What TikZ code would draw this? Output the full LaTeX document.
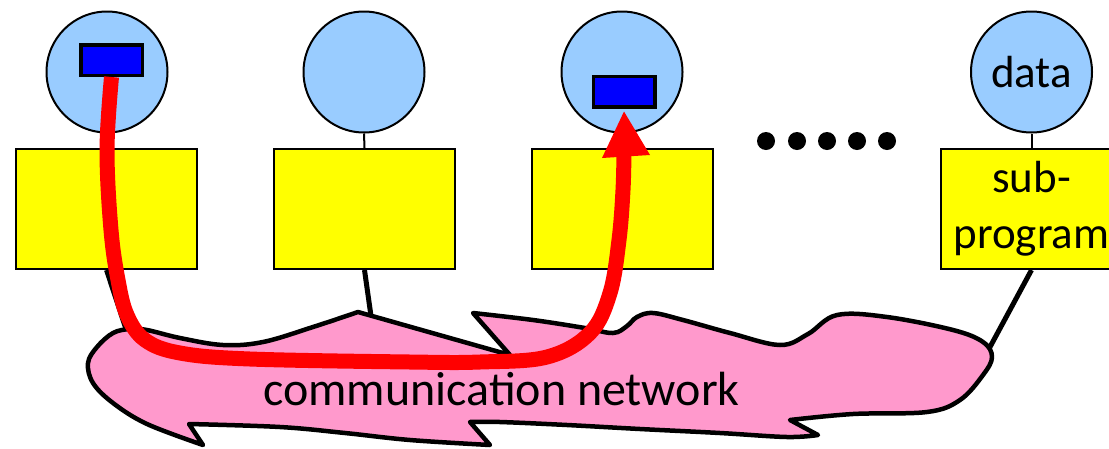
\documentclass[tikz,border=0pt]{standalone}
\usepackage{fontspec}
\setmainfont{Carlito}
\usetikzlibrary{calc}
\definecolor{circblue}{RGB}{153,204,255}
\definecolor{cloudpink}{RGB}{255,153,204}
\definecolor{itemblue}{RGB}{0,0,255}
\definecolor{boxyellow}{RGB}{255,255,0}
\definecolor{arrowred}{RGB}{255,0,0}
\begin{document}
\begin{tikzpicture}[x=1pt,y=-1pt,
  datacirc/.style={circle,draw=black,line width=2pt,fill=circblue,minimum size=121pt,inner sep=0pt,
    font=\fontsize{45}{54}\selectfont},
  progbox/.style={rectangle,draw=black,line width=2pt,fill=boxyellow,minimum width=181pt,minimum height=120pt,inner sep=0pt,
    align=center,font=\fontsize{45}{56}\selectfont},
  itembox/.style={rectangle,draw=black,line width=3.5pt,fill=itemblue,minimum width=61.5pt,minimum height=30.5pt,inner sep=0pt},
  thinlink/.style={draw=black,line width=2pt},
  netlink/.style={draw=black,line width=5pt},
  cloudsty/.style={draw=black,fill=cloudpink,line width=4.5pt,line join=round},
  flowline/.style={draw=arrowred,line width=15pt},
  dotsty/.style={circle,fill=black,minimum size=18pt,inner sep=0pt}
]
\useasboundingbox[fill=white] (0,0) rectangle (1109,448);

% circles (data)
\node[datacirc] (c1) at (107,72) {};
\node[datacirc] (c2) at (364,72) {};
\node[datacirc] (c3) at (622,72) {};
\node[datacirc] (c4) at (1031.5,72) {data};

% boxes (sub-programs)
\node[progbox] (b1) at (106.5,209) {};
\node[progbox] (b2) at (364.5,209) {};
\node[progbox] (b3) at (622,209) {};
\node[progbox] (b4) at (1031.5,209) {sub-\\program};

% circle to box links
\draw[thinlink] (c1.south) -- (b1.north);
\draw[thinlink] (c2.south) -- (b2.north);
\draw[thinlink] (c3.south) -- (b3.north);
\draw[thinlink] (c4.south) -- (b4.north);

% dots
\foreach \i/\x in {1/766,2/797,3/827,4/857,5/887}
  \node[dotsty] (dot\i) at (\x,141) {};

% box to network links
\coordinate (k1) at (127,332);
\coordinate (k2) at (371,316);
\coordinate (k4) at (990,347);
\draw[netlink] (b1.south) -- (k1);
\draw[netlink] (b2.south) -- (k2);
\draw[netlink] (b4.south) -- (k4);

% communication network cloud
\draw[cloudsty]
  (358,312) -- (510,355)
  -- (473,313)
  -- plot[smooth,tension=0.6] coordinates {(473,313) (533,320) (585,328) (613,333) (627,326) (637,317) (653,313) (683,320) (730,333) (780,345) (808,334) (837,315) (887,317) (953,330) (983,342) (992,357) (983,375) (960,400) (927,412) (853,414) (790,420)}
  -- (818,435)
  -- plot[smooth,tension=0.6] coordinates {(818,435) (787,437) (720,433) (640,429) (567,425) (500,422) (470,422)}
  -- (490,445)
  -- plot[smooth,tension=0.6] coordinates {(490,445) (410,440) (345,433) (280,427) (189,424)}
  -- (203,445)
  -- plot[smooth,tension=0.6] coordinates {(203,445) (147,424) (113,403) (93,383) (88,363) (97,347) (113,333) (130,329) (147,330) (180,338) (223,345) (263,342) (313,327) (358,312)}
  -- cycle;
\node[font=\fontsize{48}{56}\selectfont,anchor=base,inner sep=0pt] (net) at (501.5,405) {communication network};

% items
\node[itembox] (r1) at (111.5,60) {};
\node[itembox] (r3) at (624,91.5) {};

% red flow arrow
\draw[flowline] plot[smooth,tension=0.6] coordinates {(r1.south) (107,150) (111,230) (118,280) (127,315) (145,340) (180,353) (250,359) (410,362) (480,362) (547,357) (590,333) (610,293) (619,240) (623,190) (624,150)};
\fill[arrowred] ($(r3.south)+(0,3)$) -- (650,155) -- (602,158) -- cycle;
\end{tikzpicture}
\end{document}
